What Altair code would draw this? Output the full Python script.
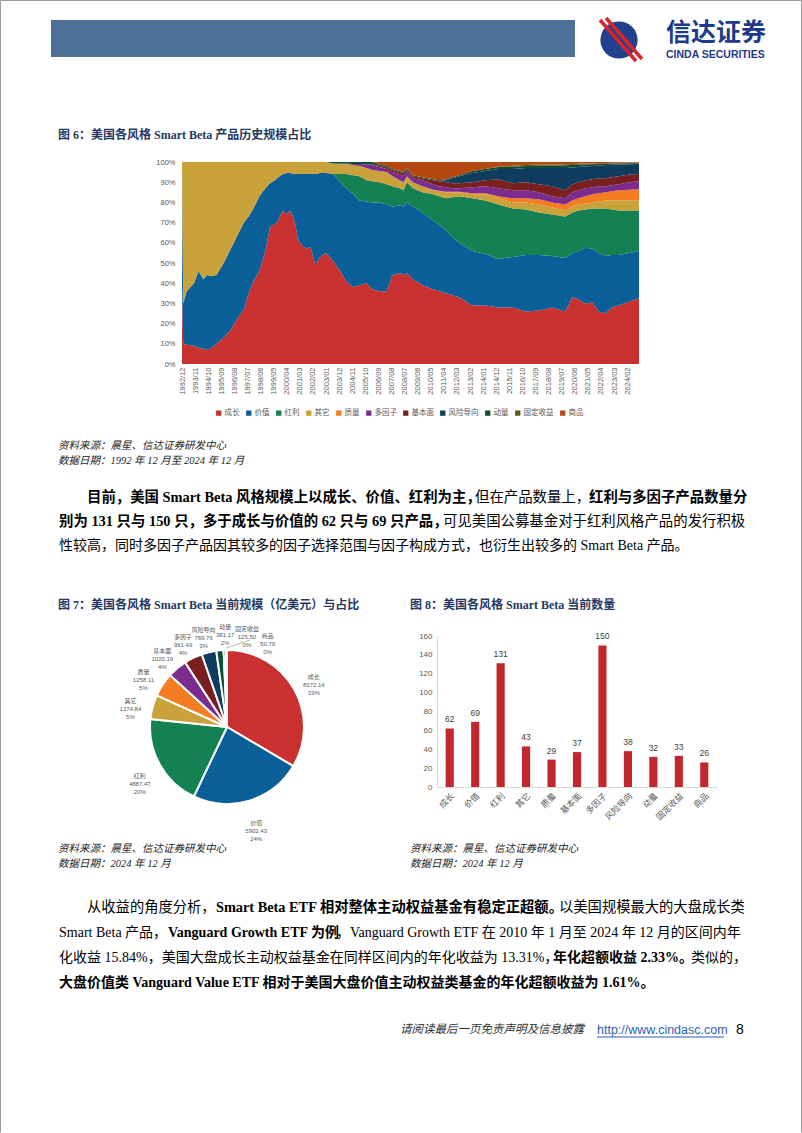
import altair as alt
import pandas as pd
import numpy as np

W, H = 802, 1133
BODY = "Liberation Serif, Noto Sans CJK SC"
SANS = "Liberation Sans, Noto Sans CJK SC"
CJK = "Noto Sans CJK SC"
NAVY = "#1f3864"

# ---------------- Figure 6 data (top edge of each band, in %) ----------------
styles = ["成长", "价值", "红利", "其它", "质量", "多因子", "基本面", "风险导向", "动量", "固定收益", "商品"]
colors = ["#c8312f", "#0a5f98", "#138152", "#c9a23c", "#f47d21", "#7b2c8e",
          "#7a1f1f", "#0f3b5f", "#0d4d35", "#5d5a1c", "#b5480f"]

sample_months = [
    "1992/12", "1993/01", "1993/04", "1993/10", "1994/02", "1994/06", "1994/09", "1994/12", "1995/05", "1995/11",
    "1996/05", "1996/10", "1997/04", "1997/08", "1997/12", "1998/05", "1998/10", "1999/02", "1999/05", "1999/08",
    "1999/11", "2000/01", "2000/04", "2000/07", "2000/10", "2001/02", "2001/06", "2001/09", "2001/12", "2002/04",
    "2002/08", "2003/01", "2003/07", "2004/01", "2004/06", "2004/12", "2005/05", "2005/11", "2006/04", "2006/10",
    "2007/04", "2007/09", "2008/03", "2008/06", "2008/09", "2009/02", "2009/10", "2010/07", "2010/12", "2011/06",
    "2011/11", "2012/05", "2013/04", "2014/03", "2015/02", "2016/02", "2017/01", "2017/12", "2018/11", "2019/10",
    "2020/04", "2020/09", "2021/03", "2021/09", "2022/02", "2022/08", "2023/01", "2023/07", "2024/04", "2024/12",
]

top_growth = [40, 10, 9.5, 9, 8, 7.5, 7, 7.5, 10, 13, 17, 22, 27, 35, 41, 46, 56, 68, 69, 70,
              74, 76, 74, 76, 72, 61, 58, 57, 58, 49, 53, 55, 51, 46, 41, 38, 39, 40, 37, 36,
              36, 44, 45, 44, 45, 42, 39, 37, 36, 35, 34, 33, 29, 29, 28, 28, 26, 26.5, 28, 26,
              33, 32, 30, 30.5, 26, 25, 28, 29, 31, 32.5]
top_value = [100, 30, 36, 40, 46, 42, 44, 43.5, 44, 50, 57, 63, 70, 73, 77, 83, 87, 89.5, 90.5, 92,
             93.5, 94, 94.5, 94.5, 94, 94, 94, 94, 94, 94, 94.5, 94.5, 94, 90, 87, 84, 81, 80.5, 80, 80,
             79, 78, 78.5, 78, 80, 78, 75, 71, 69, 66, 63, 60, 56, 54.5, 52, 53, 54, 54, 53.5, 52.5,
             55, 56, 57.5, 57, 55, 53.5, 54, 54, 55, 56]
top_dividend = [100, 30, 36, 40, 46, 42, 44, 43.5, 44, 50, 57, 63, 70, 73, 77, 83, 87, 89.5, 90.5, 92,
                93.5, 94, 94.5, 94.5, 94, 94, 94, 94, 94, 94, 94.5, 94.5, 94, 94, 94, 93.5, 93, 91, 90.5, 90,
                89, 88, 87, 86, 90, 87, 85, 84, 83, 82, 82.5, 83, 82, 81, 79, 77, 76.5, 75, 74, 73,
                75, 76, 76.5, 77, 77, 77, 76.5, 76, 76, 76]
top_other = [100] * 32 + [99.3, 99, 99, 98.5, 98, 97, 96, 95.5,
                          95, 93, 91, 90, 93, 90, 88, 86, 85.5, 85, 85, 85, 84, 84, 82, 80, 80, 79, 77.5, 76,
                          78, 79, 79.5, 80, 80.5, 81, 81, 81, 81, 81]
top_quality = [100] * 32 + [99.3, 99, 99, 98.5, 98, 97, 96, 95.5,
                            95, 93, 91, 90, 93, 90, 88, 86.3, 85.8, 85.3, 85.3, 85.3, 84.5, 84.5, 83, 82, 82, 81.5, 80, 79,
                            81, 82, 83, 84, 84.5, 85, 85.5, 86, 86.3, 86.5]
top_multi = [100] * 32 + [99.3, 99.2, 99.2, 99, 99, 98.8, 98.5, 97.5,
                          96.5, 95, 94, 93, 95.5, 92, 91, 89, 88, 87.5, 87, 87, 87.5, 88, 87, 86, 86, 85, 83, 82,
                          85, 86, 87, 87.5, 88, 88, 88.5, 89, 90, 90.5]
top_fundamental = [100] * 32 + [99.3, 99.2, 99.2, 99, 99, 98.8, 98.8, 98,
                                97.3, 96, 95, 94.5, 96.5, 93, 92, 91, 90.5, 90, 89.5, 89.5, 90, 91, 91.5, 89.5, 90, 89, 88, 86,
                                89, 90, 91, 91.5, 92, 92, 92.5, 93, 93.8, 94]
top_risk = [100] * 32 + [99.3, 99.2, 99.2, 99, 99, 98.8, 98.8, 98,
                         97.3, 96, 95, 94.5, 96.5, 93, 92, 91, 90.5, 91, 92, 93, 94.5, 95.5, 96.5, 96.5, 97, 97, 97, 97,
                         97.3, 97.5, 97.8, 98, 98.2, 98.5, 98.6, 98.8, 98.9, 99]
top_momentum = [100] * 32 + [100, 100, 100, 100, 100, 100, 100, 98.8,
                             98, 96.5, 95.5, 95, 97, 93.5, 92.5, 91.5, 91, 91.5, 92.5, 93.5, 95.5, 96.5, 97.5, 97.8, 98, 98.2, 98.2, 98.4,
                             98.5, 98.6, 98.8, 98.9, 99, 99.1, 99.2, 99.3, 99.4, 99.4]
top_fixed = [100] * 32 + [100, 100, 100, 100, 100, 100, 100, 98.8,
                          98, 96.5, 95.5, 95, 97, 93.5, 92.5, 91.5, 91, 91.5, 92.5, 93.5, 95.5, 96.5, 97.8, 98.2, 98.5, 98.7, 98.8, 98.9,
                          99, 99.1, 99.2, 99.3, 99.4, 99.5, 99.6, 99.6, 99.7, 99.7]
top_commodity = [100] * 70

tops = np.array([top_growth, top_value, top_dividend, top_other, top_quality, top_multi,
                 top_fundamental, top_risk, top_momentum, top_fixed, top_commodity], dtype=float)
shares = np.diff(np.vstack([np.zeros(len(sample_months)), tops]), axis=0)


def month_index(s):
    y, m = s.split("/")
    return (int(y) - 1992) * 12 + int(m) - 12


rows = []
for k, name in enumerate(styles):
    for j, m in enumerate(sample_months):
        rows.append({"idx": month_index(m), "style": name, "k": k, "share": float(shares[k, j])})
area_df = pd.DataFrame(rows)

# ---------------- Figure 7 / 8 data (category order as in those charts) ----------------
cats78 = ["成长", "价值", "红利", "其它", "质量", "基本面", "多因子", "风险导向", "动量", "固定收益", "商品"]
pie_values = [8372.14, 5902.43, 4887.47, 1274.84, 1258.11, 1020.19, 961.49, 769.76, 381.17, 125.50, 50.79]
pie_pcts = [33, 24, 20, 5, 5, 4, 4, 3, 2, 0, 0]
bar_counts = [62, 69, 131, 43, 29, 37, 150, 38, 32, 33, 26]

# ---------------- helpers ----------------
one = pd.DataFrame({"t": [""]})


def txt(s, x, y, size=14, bold=False, italic=False, color="#000000", align="left", font=BODY):
    return alt.Chart(pd.DataFrame({"t": [s]})).mark_text(
        align=align, baseline="middle", fontSize=size,
        fontWeight="bold" if bold else "normal",
        fontStyle="italic" if italic else "normal",
        color=color, font=font,
    ).encode(x=alt.value(x), y=alt.value(y), text="t:N")


def rect(x, x2, y, y2, color):
    return alt.Chart(one).mark_rect(color=color).encode(
        x=alt.value(x), x2=alt.value(x2), y=alt.value(y), y2=alt.value(y2))


def rule(x, x2, y, y2, color, w):
    return alt.Chart(one).mark_rule(color=color, strokeWidth=w).encode(
        x=alt.value(x), x2=alt.value(x2), y=alt.value(y), y2=alt.value(y2))


layers = []

# ---------------- page frame + header ----------------
layers.append(rule(0.5, 801.5, 0.5, 0.5, "#9a9a9a", 1))
layers.append(rule(0.5, 0.5, 0.5, 1132.5, "#9a9a9a", 1))
layers.append(rule(801.5, 801.5, 0.5, 1132.5, "#9a9a9a", 1))
layers.append(rect(51, 575, 20, 57, "#4e6f97"))
layers.append(alt.Chart(one).mark_circle(size=1385, color="#22408c", opacity=1).encode(
    x=alt.value(619), y=alt.value(40)))
layers.append(rule(600, 636, 20, 61, "#d9232a", 3.5))
layers.append(rule(606, 642, 18, 59, "#d9232a", 3.5))
layers.append(txt("信达证券", 666, 33, size=25, bold=True, color="#1f3a8a", font=CJK))
layers.append(txt("CINDA SECURITIES", 666, 55, size=10.5, bold=True, color="#1f3a8a", font="Liberation Sans"))

# ---------------- Figure 6 ----------------
layers.append(txt("图 6：美国各风格 Smart Beta 产品历史规模占比", 58, 135, size=12, bold=True, color=NAVY))

x_label_expr = ("(1992 + floor((11 + datum.value) / 12)) + '/' + "
                "((((11 + datum.value) % 12) + 1) < 10 ? '0' : '') + (((11 + datum.value) % 12) + 1)")

AX0, AX1, AY0, AY1 = 182, 639, 364, 162
area = alt.Chart(area_df).mark_area(interpolate="linear").encode(
    x=alt.X("idx:Q", scale=alt.Scale(domain=[0, 384], range=[AX0, AX1], nice=False, zero=False),
            axis=alt.Axis(orient="bottom", offset=AY0 - H, values=list(range(0, 375, 11)),
                          labelExpr=x_label_expr, labelAngle=-90, labelFontSize=7.5, labelColor="#595959",
                          labelFont=SANS, ticks=False, domain=False, grid=False, title=None, labelPadding=3,
                          labelOverlap=False)),
    y=alt.Y("share:Q", stack="zero", scale=alt.Scale(domain=[0, 100], range=[AY0, AY1], nice=False),
            axis=alt.Axis(orient="left", offset=-AX0, values=list(range(0, 101, 10)),
                          labelExpr="datum.value + '%'", labelFontSize=7.5, labelColor="#595959",
                          labelFont=SANS, ticks=False, domain=False, grid=False, title=None, labelPadding=7)),
    color=alt.Color("style:N", scale=alt.Scale(domain=styles, range=colors),
                    legend=alt.Legend(orient="none", legendX=215, legendY=409, direction="horizontal",
                                      columns=11, title=None, symbolType="square", symbolSize=28,
                                      labelFontSize=7.5, labelColor="#595959", labelFont=CJK,
                                      columnPadding=5, labelOffset=2, symbolStrokeWidth=0)),
    order=alt.Order("k:Q"),
)
layers.append(area)

layers.append(txt("资料来源：晨星、信达证券研发中心", 58, 446, size=10.5, italic=True, color="#222222"))
layers.append(txt("数据日期：1992 年 12 月至 2024 年 12 月", 58, 461, size=10.5, italic=True, color="#222222"))

# ---------------- paragraph 1 ----------------
layers.append(txt("目前，美国 Smart Beta 风格规模上以成长、价值、红利为主，", 87, 498, size=14.4, bold=True))
layers.append(txt("但在产品数量上，", 475, 498, size=14.4))
layers.append(txt("红利与多因子产品数量分", 589, 498, size=14.4, bold=True))
layers.append(txt("别为 131 只与 150 只，多于成长与价值的 62 只与 69 只产品，", 59, 522, size=14.4, bold=True))
layers.append(txt("可见美国公募基金对于红利风格产品的发行积极", 443, 522, size=14.4))
layers.append(txt("性较高，同时多因子产品因其较多的因子选择范围与因子构成方式，也衍生出较多的 Smart Beta 产品。", 59, 546))

# ---------------- Figure 7 (pie) ----------------
layers.append(txt("图 7：美国各风格 Smart Beta 当前规模（亿美元）与占比", 58, 605, size=12, bold=True, color=NAVY))
pie_df = pd.DataFrame({"style": cats78, "val": pie_values, "k": list(range(len(cats78)))})
cum = np.cumsum(pie_values)
tot = cum[-1]
mid = (cum - np.array(pie_values) / 2) / tot * 360
angs = []
for a in mid:
    if angs and a < angs[-1] + 12.5:
        a = angs[-1] + 12.5
    angs.append(a)
pie_df["ang"] = angs
pie_df["label"] = [f"{s}\n{v:.2f}\n{p}%" for s, v, p in zip(cats78, pie_values, pie_pcts)]

PCX, PCY = 227, 727
arc = alt.Chart(pie_df).mark_arc(outerRadius=77, stroke="white", strokeWidth=2).encode(
    theta=alt.Theta("val:Q", stack=True),
    color=alt.Color("style:N", scale=alt.Scale(domain=cats78, range=colors), legend=None),
    order=alt.Order("k:Q"),
    x=alt.value(PCX), y=alt.value(PCY),
)
plab = alt.Chart(pie_df).mark_text(radius=100, fontSize=6, color="#595959", lineBreak="\n",
                                   align="center", baseline="middle", font=SANS).encode(
    theta=alt.Theta("ang:Q", scale=alt.Scale(domain=[0, 360], range=[0, 2 * np.pi]), stack=None),
    text="label:N",
    x=alt.value(PCX), y=alt.value(PCY),
)
layers.append(alt.layer(arc, plab).resolve_scale(theta="independent"))
layers.append(rule(226, 250, 648, 640, "#a6a6a6", 0.8))

# ---------------- Figure 8 (bars) ----------------
layers.append(txt("图 8：美国各风格 Smart Beta 当前数量", 410, 605, size=12, bold=True, color=NAVY))
bar_df = pd.DataFrame({"cat": cats78, "n": bar_counts})
BX0, BX1, BY0, BY1 = 437, 717, 787, 636
xb = alt.X("cat:N", sort=cats78,
           scale=alt.Scale(range=[BX0, BX1], paddingInner=0.68, paddingOuter=0.34),
           axis=alt.Axis(orient="bottom", offset=BY0 - H, labelAngle=-45, labelFontSize=8.5,
                         labelColor="#595959", labelFont=CJK, ticks=False, domainColor="#d9d9d9",
                         grid=False, title=None, labelPadding=4))
yb = alt.Y("n:Q", scale=alt.Scale(domain=[0, 160], range=[BY0, BY1], nice=False),
           axis=alt.Axis(orient="left", offset=-BX0, values=list(range(0, 161, 20)), labelFontSize=8,
                         labelColor="#595959", labelFont=SANS, ticks=False, domainColor="#d9d9d9",
                         grid=False, title=None, labelPadding=5))
bars = alt.Chart(bar_df).mark_bar(color="#c0282d").encode(x=xb, y=yb)
blab = alt.Chart(bar_df).mark_text(dy=-9, fontSize=8.5, color="#404040", font=SANS).encode(
    x=alt.X("cat:N", sort=cats78), y=alt.Y("n:Q"), text="n:Q")
layers.append(alt.layer(bars, blab))

for bx in (58, 410):
    layers.append(txt("资料来源：晨星、信达证券研发中心", bx, 849, size=10.5, italic=True, color="#222222"))
    layers.append(txt("数据日期：2024 年 12 月", bx, 864, size=10.5, italic=True, color="#222222"))

# ---------------- paragraph 2 ----------------
layers.append(txt("从收益的角度分析，", 87, 908, size=14.3))
layers.append(txt("Smart Beta ETF 相对整体主动权益基金有稳定正超额。", 216, 908, size=14.3, bold=True))
layers.append(txt("以美国规模最大的大盘成长类", 559, 908, size=14.3))
layers.append(txt("Smart Beta 产品，", 59, 933))
layers.append(txt("Vanguard Growth ETF 为例", 168, 933, bold=True))
layers.append(txt("，Vanguard Growth ETF 在 2010 年 1 月至 2024 年 12 月的区间内年", 336, 933))
layers.append(txt("化收益 15.84%，美国大盘成长主动权益基金在同样区间内的年化收益为 13.31%，", 59, 958))
layers.append(txt("年化超额收益 2.33%。", 553, 958, bold=True))
layers.append(txt("类似的，", 691, 958))
layers.append(txt("大盘价值类 Vanguard Value ETF 相对于美国大盘价值主动权益类基金的年化超额收益为 1.61%。", 59, 983, bold=True))

# ---------------- footer ----------------
layers.append(txt("请阅读最后一页免责声明及信息披露", 400, 1030, size=11.5, italic=True, color="#333333", font=CJK))
layers.append(txt("http://www.cindasc.com", 597, 1030, size=12.5, color="#2b5fb4", font="Liberation Sans"))
layers.append(rule(597, 724, 1037, 1037, "#2b5fb4", 1))
layers.append(txt("8", 736, 1030, size=14, color="#000000", font="Liberation Sans"))

chart = alt.layer(*layers).resolve_scale(
    x="independent", y="independent", color="independent", theta="independent"
).properties(
    width=W, height=H, autosize=alt.AutoSizeParams(type="none"), padding=0, background="white"
).configure_view(stroke=None)

chart.save("out.html", embed_options={"renderer": "svg", "actions": False})
